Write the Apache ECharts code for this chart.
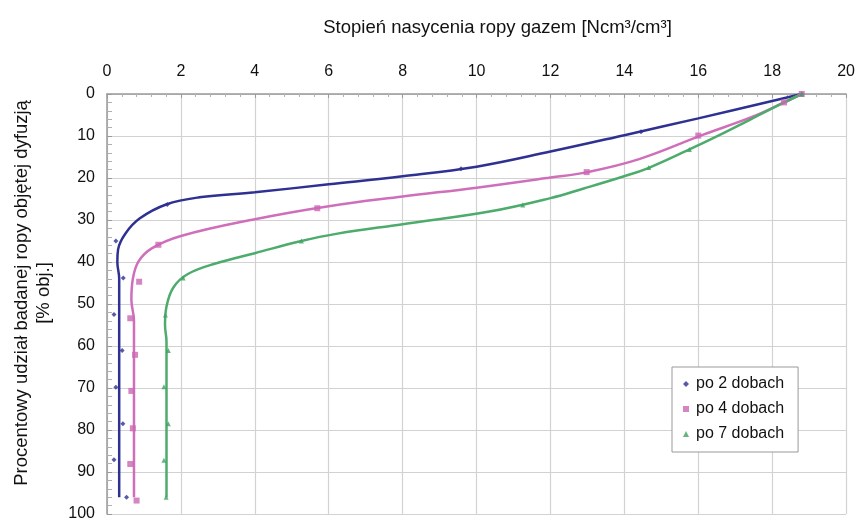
<!DOCTYPE html>
<html>
<head>
<meta charset="utf-8">
<script src="https://cdn.jsdelivr.net/npm/echarts@6/dist/echarts.min.js"></script>
<style>
html,body{margin:0;padding:0;background:#fff;}
#chart{width:858px;height:523px;}
</style>
</head>
<body>
<div id="chart"></div>
<script>
// ---- data (x = Stopień nasycenia, y = % obj.) ----
var seriesNames = ['po 2 dobach', 'po 4 dobach', 'po 7 dobach'];
var xTicks = [0, 2, 4, 6, 8, 10, 12, 14, 16, 18, 20];
var yTicks = [0, 10, 20, 30, 40, 50, 60, 70, 80, 90, 100];

// fitted curves
var curve2 = [[18.8,0],[16.0,5.8],[14.0,9.8],[12.0,13.7],[10.0,17.3],[8.0,19.6],[6.0,21.5],[4.0,23.4],[2.5,24.6],[1.6,26.3],[0.89,29.6],[0.5,33.2],[0.3,37.0],[0.28,40.0],[0.33,44],[0.33,96]];
var curve4 = [[18.8,0],[18.32,2.0],[17.47,5.4],[16.1,9.8],[14.4,15.5],[13.0,18.6],[12.0,19.9],[10.0,22.3],[8.0,24.4],[6.0,26.7],[4.0,29.8],[2.0,33.8],[1.2,36.8],[0.85,39.9],[0.7,44.0],[0.66,49.0],[0.73,54.0],[0.73,96]];
var curve7 = [[18.8,0],[18.19,2.6],[17.38,6.2],[16.57,9.8],[15.76,13.2],[14.63,17.7],[13.95,19.7],[12.9,22.5],[12.0,24.8],[10.35,28.0],[8.0,31.0],[6.2,33.3],[5.26,35.0],[4.0,37.9],[2.96,40.3],[2.2,42.8],[1.8,46.0],[1.61,50.6],[1.57,55.0],[1.61,59.0],[1.61,96]];

// measured points
var points2 = [[18.8,0],[14.45,9.0],[9.58,17.8],[1.63,26.3],[0.24,35.0],[0.44,43.8],[0.19,52.5],[0.41,61.1],[0.24,69.8],[0.43,78.5],[0.19,87.1],[0.53,96.0]];
var points4 = [[18.8,0],[18.32,2.0],[16.0,9.9],[12.98,18.6],[5.69,27.2],[1.39,35.9],[0.87,44.7],[0.63,53.4],[0.76,62.1],[0.66,70.7],[0.70,79.6],[0.63,88.1],[0.80,96.8]];
var points7 = [[18.8,0],[15.76,13.2],[14.66,17.5],[11.25,26.4],[5.26,35.0],[2.06,43.8],[1.58,52.6],[1.66,61.1],[1.54,69.7],[1.66,78.5],[1.54,87.2],[1.60,96.0]];

var lineColors = ['#2E3192', '#CF6FBA', '#4DAB6B'];
var markerColors = ['#2E3192', '#CC66B4', '#3FA363'];

var FONT = 'Liberation Sans, Arial, sans-serif';
var chart = echarts.init(document.getElementById('chart'), null, {renderer: 'canvas'});

function lineSeries(data, i) {
  return {
    type: 'line', data: data, smooth: 0.4, showSymbol: false, symbol: 'none',
    lineStyle: {color: lineColors[i], width: 2.5}, silent: true, z: 2
  };
}
function scatterSeries(data, i, sym, size) {
  return {
    name: seriesNames[i], type: 'scatter', data: data, symbol: sym, symbolSize: size,
    itemStyle: {color: markerColors[i]}, z: 3
  };
}

chart.setOption({
  animation: false,
  textStyle: {fontFamily: FONT},
  grid: {left: 107, top: 94, right: 11, bottom: 9, containLabel: false},
  legend: {
    orient: 'vertical', left: 672, top: 367, width: 127,
    padding: [9, 14, 10, 11], itemGap: 9, itemWidth: 6, itemHeight: 6,
    backgroundColor: '#fff', borderColor: '#999', borderWidth: 1,
    textStyle: {fontSize: 16, color: '#111', fontFamily: FONT, padding: [0, 0, 0, 2]},
    data: [
      {name: seriesNames[0], icon: 'diamond'},
      {name: seriesNames[1], icon: 'rect'},
      {name: seriesNames[2], icon: 'triangle'}
    ]
  },
  xAxis: {
    type: 'value', position: 'top', min: 0, max: 20, interval: 2,
    name: 'Stopień nasycenia ropy gazem [Ncm³/cm³]',
    nameLocation: 'middle', nameGap: 57,
    nameTextStyle: {fontSize: 18.5, color: '#111', fontFamily: FONT, padding: [0, 0, 0, 42]},
    axisLine: {show: true, lineStyle: {color: '#9a9a9a', width: 1.5}},
    axisTick: {show: true, inside: true, length: 4, lineStyle: {color: '#9a9a9a'}},
    minorTick: {show: true, splitNumber: 5, length: 3, lineStyle: {color: '#b0b0b0'}},
    axisLabel: {fontSize: 16, color: '#111', margin: 14, fontFamily: FONT,
      formatter: function (v) { return xTicks.indexOf(v) >= 0 ? String(v) : ''; }},
    splitLine: {show: true, lineStyle: {color: '#d2d2d2', width: 1.2}}
  },
  yAxis: {
    type: 'value', inverse: true, min: 0, max: 100, interval: 10,
    name: 'Procentowy udział badanej ropy objętej dyfuzją\n[% obj.]',
    nameLocation: 'middle', nameGap: 52, nameRotate: 90,
    nameTextStyle: {fontSize: 18.5, color: '#111', fontFamily: FONT, lineHeight: 22, padding: [0, 0, 0, 22]},
    axisLine: {show: true, lineStyle: {color: '#9a9a9a', width: 1.5}},
    axisTick: {show: true, inside: true, length: 5, lineStyle: {color: '#9a9a9a'}},
    minorTick: {show: true, splitNumber: 5, length: 5, lineStyle: {color: '#b0b0b0'}},
    axisLabel: {fontSize: 16, color: '#111', margin: 12, fontFamily: FONT,
      formatter: function (v) { return yTicks.indexOf(v) >= 0 ? String(v) : ''; }},
    splitLine: {show: true, lineStyle: {color: '#d2d2d2', width: 1.2}}
  },
  series: [
    lineSeries(curve2, 0), lineSeries(curve4, 1), lineSeries(curve7, 2),
    scatterSeries(points2, 0, 'diamond', 5),
    scatterSeries(points4, 1, 'rect', 6),
    scatterSeries(points7, 2, 'triangle', 5)
  ]
});
</script>
</body>
</html>
